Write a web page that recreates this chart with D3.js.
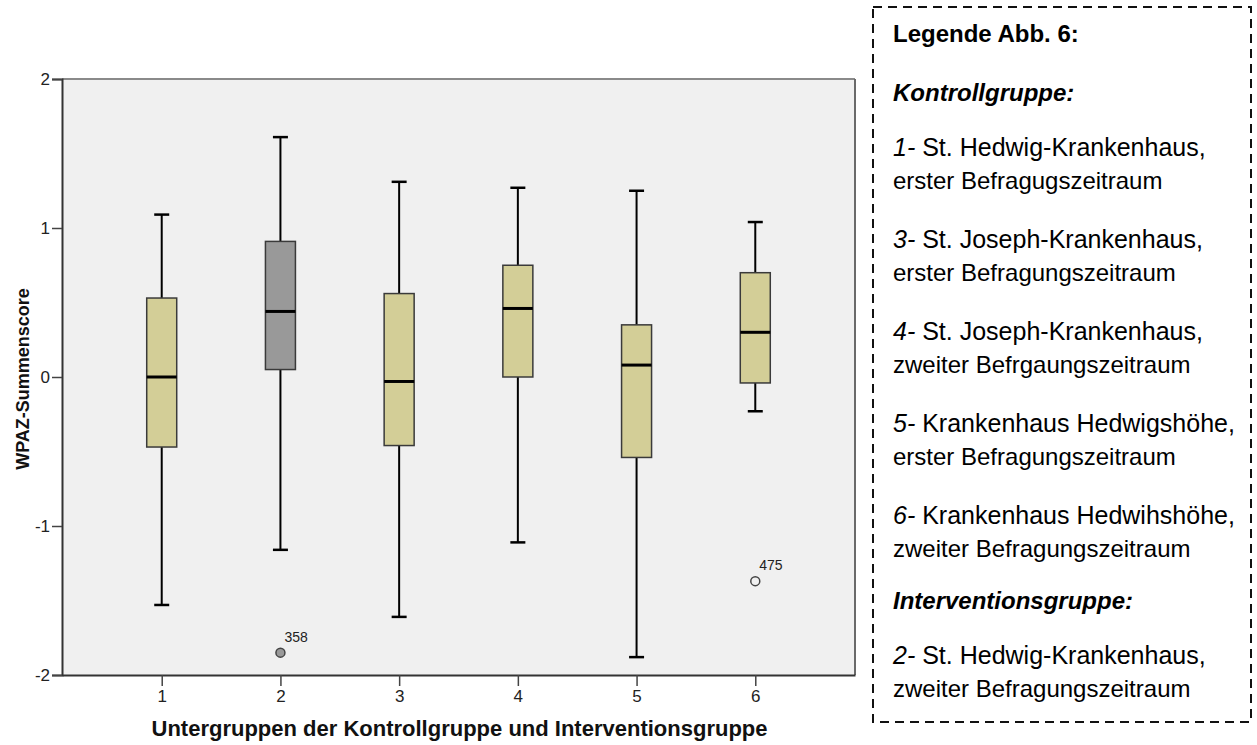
<!DOCTYPE html>
<html>
<head>
<meta charset="utf-8">
<script src="https://d3js.org/d3.v7.min.js"></script>
<style>
  html, body { margin: 0; padding: 0; background: #ffffff; }
  svg { display: block; font-family: "Liberation Sans", Arial, sans-serif; }
</style>
</head>
<body>
<svg id="chart" width="1257" height="745"></svg>
<script>
// Untergruppen (x-axis categories)
const categories = ["1", "2", "3", "4", "5", "6"];
// Box-plot statistics per subgroup (WPAZ-Summenscore)
const whiskerLow  = [-1.53, -1.16, -1.61, -1.11, -1.88, -0.23];
const quartile1   = [-0.47,  0.05, -0.46,  0.00, -0.54, -0.04];
const median      = [ 0.00,  0.44, -0.03,  0.46,  0.08,  0.30];
const quartile3   = [ 0.53,  0.91,  0.56,  0.75,  0.35,  0.70];
const whiskerHigh = [ 1.09,  1.61,  1.31,  1.27,  1.25,  1.04];
// Interventionsgruppe (Untergruppe 2) is shaded differently
const groupType   = ["K", "I", "K", "K", "K", "K"];
// Outliers
const outlierGroup = ["2", "6"];
const outlierValue = [-1.85, -1.37];
const outlierLabel = ["358", "475"];
const outlierFilled = [true, false];
// Axis ticks
const yTicks = [-2, -1, 0, 1, 2];

// Legend text
const legendTitle = "Legende Abb. 6:";
const legendControl = "Kontrollgruppe:";
const legendNumbers = ["1", "3", "4", "5", "6"];
const legendLine1 = ["St. Hedwig-Krankenhaus,", "St. Joseph-Krankenhaus,", "St. Joseph-Krankenhaus,", "Krankenhaus Hedwigshöhe,", "Krankenhaus Hedwihshöhe,"];
const legendLine2 = ["erster Befragugszeitraum", "erster Befragungszeitraum", "zweiter Befrgaungszeitraum", "erster Befragungszeitraum", "zweiter Befragungszeitraum"];
const legendIntervention = "Interventionsgruppe:";
const legendIntNumbers = ["2"];
const legendIntLine1 = ["St. Hedwig-Krankenhaus,"];
const legendIntLine2 = ["zweiter Befragungszeitraum"];

const svg = d3.select("#chart");

const plot = { left: 62, right: 855, top: 79, bottom: 675 };

const x = d3.scalePoint().domain(categories).range([plot.left, plot.right]).padding(0.84);
const y = d3.scaleLinear().domain([-2, 2]).range([plot.bottom, plot.top]);

const boxW = 30, capW = 15;
const fillColor = { K: "#d3ce97", I: "#999999" };

// plot background
svg.append("rect")
  .attr("x", plot.left).attr("y", plot.top)
  .attr("width", plot.right - plot.left).attr("height", plot.bottom - plot.top)
  .attr("fill", "#f0f0f0");

// top and right frame lines
svg.append("line").attr("x1", plot.left).attr("x2", plot.right).attr("y1", plot.top).attr("y2", plot.top)
  .attr("stroke", "#8a8a8a").attr("stroke-width", 2);
svg.append("line").attr("x1", plot.right).attr("x2", plot.right).attr("y1", plot.top).attr("y2", plot.bottom)
  .attr("stroke", "#6a6a6a").attr("stroke-width", 2);

// boxes
const data = categories.map((c, i) => ({
  c, lo: whiskerLow[i], q1: quartile1[i], med: median[i], q3: quartile3[i], hi: whiskerHigh[i], t: groupType[i]
}));

const g = svg.append("g");
const boxes = g.selectAll("g.box").data(data).join("g").attr("class", "box");

boxes.append("line").attr("x1", d => x(d.c)).attr("x2", d => x(d.c))
  .attr("y1", d => y(d.hi)).attr("y2", d => y(d.q3))
  .attr("stroke", "#000").attr("stroke-width", 2);
boxes.append("line").attr("x1", d => x(d.c)).attr("x2", d => x(d.c))
  .attr("y1", d => y(d.q1)).attr("y2", d => y(d.lo))
  .attr("stroke", "#000").attr("stroke-width", 2);
boxes.append("line").attr("x1", d => x(d.c) - capW / 2).attr("x2", d => x(d.c) + capW / 2)
  .attr("y1", d => y(d.hi)).attr("y2", d => y(d.hi))
  .attr("stroke", "#000").attr("stroke-width", 2.5);
boxes.append("line").attr("x1", d => x(d.c) - capW / 2).attr("x2", d => x(d.c) + capW / 2)
  .attr("y1", d => y(d.lo)).attr("y2", d => y(d.lo))
  .attr("stroke", "#000").attr("stroke-width", 2.5);
boxes.append("rect")
  .attr("x", d => x(d.c) - boxW / 2).attr("width", boxW)
  .attr("y", d => y(d.q3)).attr("height", d => y(d.q1) - y(d.q3))
  .attr("fill", d => fillColor[d.t]).attr("stroke", "#3a3a3a").attr("stroke-width", 1.5);
boxes.append("line").attr("x1", d => x(d.c) - boxW / 2).attr("x2", d => x(d.c) + boxW / 2)
  .attr("y1", d => y(d.med)).attr("y2", d => y(d.med))
  .attr("stroke", "#000").attr("stroke-width", 3);

// outliers
const outliers = outlierGroup.map((c, i) => ({ c, v: outlierValue[i], label: outlierLabel[i], filled: outlierFilled[i] }));
g.selectAll("circle.out").data(outliers).join("circle").attr("class", "out")
  .attr("cx", d => x(d.c)).attr("cy", d => y(d.v)).attr("r", 4.5)
  .attr("fill", d => d.filled ? "#999999" : "#f0f0f0")
  .attr("stroke", "#444").attr("stroke-width", 1.5);
g.selectAll("text.outlab").data(outliers).join("text").attr("class", "outlab")
  .attr("x", d => x(d.c) + 4).attr("y", d => y(d.v) - 11)
  .attr("font-size", 14).attr("fill", "#222")
  .text(d => d.label);

// axes
const yAxis = d3.axisLeft(y).tickValues(yTicks).tickSize(10).tickPadding(2).tickFormat(d => String(d));
const ya = svg.append("g").attr("transform", `translate(${plot.left},0)`).call(yAxis);
ya.select(".domain").attr("stroke", "#333").attr("stroke-width", 2);
ya.selectAll(".tick line").attr("stroke", "#444").attr("stroke-width", 1.5);
ya.selectAll(".tick text").attr("font-size", 17).attr("fill", "#222").attr("font-family", "Liberation Sans, Arial, sans-serif");

const xAxis = d3.axisBottom(x).tickSize(11).tickPadding(4).tickSizeOuter(0);
const xa = svg.append("g").attr("transform", `translate(0,${plot.bottom})`).call(xAxis);
xa.select(".domain").attr("stroke", "#333").attr("stroke-width", 2);
xa.selectAll(".tick line").attr("stroke", "#444").attr("stroke-width", 1.5);
xa.selectAll(".tick text").attr("font-size", 17).attr("fill", "#222").attr("font-family", "Liberation Sans, Arial, sans-serif");

// axis titles
svg.append("text")
  .attr("x", (plot.left + plot.right) / 2 + 1).attr("y", 736)
  .attr("text-anchor", "middle").attr("font-weight", "bold").attr("font-size", 22)
  .attr("fill", "#111")
  .text("Untergruppen der Kontrollgruppe und Interventionsgruppe");
svg.append("text")
  .attr("transform", `translate(29,${(plot.top + plot.bottom) / 2 + 2}) rotate(-90)`)
  .attr("text-anchor", "middle").attr("font-weight", "bold").attr("font-size", 18)
  .attr("fill", "#111")
  .text("WPAZ-Summenscore");

// legend box
const lg = svg.append("g");
lg.append("rect").attr("x", 873).attr("y", 7).attr("width", 378).attr("height", 715)
  .attr("fill", "none").attr("stroke", "#111").attr("stroke-width", 2)
  .attr("stroke-dasharray", "9,6");

const lx = 893, fsBold = 24, fs1 = 25, fs2 = 24;
lg.append("text").attr("x", lx).attr("y", 42).attr("font-size", fsBold).attr("font-weight", "bold")
  .attr("fill", "#000").text(legendTitle);
lg.append("text").attr("x", lx).attr("y", 101).attr("font-size", fsBold).attr("font-weight", "bold")
  .attr("font-style", "italic").attr("fill", "#000").text(legendControl);

function legendItem(num, l1, l2, base) {
  const t = lg.append("text").attr("x", lx).attr("y", base).attr("font-size", fs1).attr("fill", "#000");
  t.append("tspan").attr("font-style", "italic").text(num + "-");
  t.append("tspan").text(" " + l1);
  lg.append("text").attr("x", lx).attr("y", base + 33).attr("font-size", fs2).attr("fill", "#000").text(l2);
}
legendNumbers.forEach((n, i) => legendItem(n, legendLine1[i], legendLine2[i], 156 + 92 * i));

lg.append("text").attr("x", lx).attr("y", 609).attr("font-size", fsBold).attr("font-weight", "bold")
  .attr("font-style", "italic").attr("fill", "#000").text(legendIntervention);
legendIntNumbers.forEach((n, i) => legendItem(n, legendIntLine1[i], legendIntLine2[i], 664 + 92 * i));
</script>
</body>
</html>
